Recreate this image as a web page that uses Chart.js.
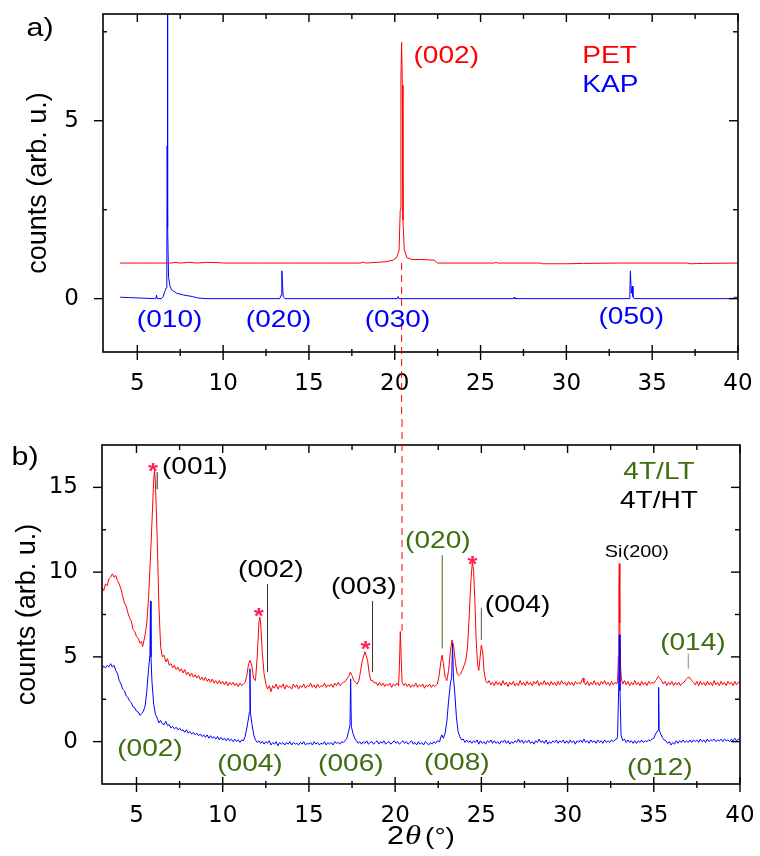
<!DOCTYPE html>
<html>
<head>
<meta charset="utf-8">
<script src="https://cdn.jsdelivr.net/npm/chart.js@4.4.0/dist/chart.umd.min.js"></script>
<style>
  html, body { margin: 0; padding: 0; background: #fff; }
  #wrap { width: 760px; height: 856px; }
  canvas { display: block; }
</style>
</head>
<body>
<div id="wrap">
  <canvas id="chartA" width="760" height="420"></canvas>
  <canvas id="chartB" width="760" height="436"></canvas>
</div>
<script>
/* ---------- data ---------- */

// axis ticks (2theta in degrees)
const xTickValues  = [5, 10, 15, 20, 25, 30, 35, 40];
const xMinorValues = [7.5, 12.5, 17.5, 22.5, 27.5, 32.5, 37.5];
const yTicksA = [0, 5];
const yMinorA = [2.5, 7.5];
const yTicksB = [0, 5, 10, 15];
const yMinorB = [2.5, 7.5, 12.5];

// panel a) PET (red, offset +1)
const petX = [4.0, 5.0, 6.0, 7.0, 7.2, 7.5, 8.0, 8.5, 9.0, 9.8,
  10.0, 12.0, 14.0, 16.0, 18.0, 18.2, 18.3, 19.0, 19.5, 19.9,
  20.1, 20.25, 20.32, 20.36, 20.4, 20.44, 20.48, 20.55, 20.7, 21.0,
  21.5, 22.3, 22.5, 25.8, 25.9, 26.0, 28.5, 28.6, 30.0, 31.0,
  33.0, 37.0, 37.2, 38.0, 40.0];
const petY = [1.0, 1.0, 1.0, 1.0, 1.02, 1.0, 1.02, 1.0, 1.02, 1.01,
  1.0, 1.0, 1.0, 1.0, 1.0, 1.03, 1.0, 1.02, 1.04, 1.08,
  1.15, 1.35, 2.5, 6.2, 7.2, 6.0, 2.2, 1.4, 1.15, 1.1,
  1.1, 1.08, 1.0, 1.0, 1.02, 1.0, 1.0, 0.98, 0.98, 0.99,
  1.0, 1.0, 0.98, 0.99, 1.0];

// panel a) KAP (blue)
const kapX = [4.0, 4.5, 5.0, 5.5, 6.0, 6.08, 6.12, 6.16, 6.4, 6.5,
  6.6, 6.68, 6.72, 6.74, 6.75, 6.77, 6.78, 6.82, 6.9, 7.0,
  7.3, 7.7, 8.2, 8.5, 9.0, 13.3, 13.38, 13.42, 13.46, 13.5,
  13.6, 20.15, 20.2, 20.25, 26.9, 26.95, 27.0, 33.65, 33.7, 33.73,
  33.78, 33.84, 33.88, 33.95, 39.7, 39.8, 40.0];
const kapY = [0.04, 0.03, 0.02, 0.01, 0.0, 0.0, 0.1, 0.0, 0.0, 0.05,
  0.2, 0.3, 1.0, 4.3, 9.5, 9.5, 2.0, 0.6, 0.35, 0.25,
  0.15, 0.1, 0.06, 0.02, 0.0, 0.0, 0.1, 0.78, 0.4, 0.05,
  0.0, 0.0, 0.06, 0.0, 0.0, 0.04, 0.0, 0.0, 0.2, 0.78,
  0.15, 0.35, 0.05, 0.0, 0.0, 0.04, 0.04];

// panel b) red film pattern
const redX = [3.0, 3.1, 3.2, 3.3, 3.4, 3.5, 3.6, 3.7, 3.8, 3.9,
  4.0, 4.1, 4.2, 4.3, 4.4, 4.5, 4.6, 4.7, 4.8, 4.9,
  5.0, 5.1, 5.2, 5.3, 5.35, 5.4, 5.5, 5.6, 5.7, 5.8,
  5.9, 6.0, 6.05, 6.1, 6.2, 6.3, 6.4, 6.5, 6.6, 6.7,
  6.8, 6.9, 7.0, 7.1, 7.2, 7.3, 7.4, 7.5, 7.6, 7.7,
  7.8, 7.9, 8.0, 8.1, 8.2, 8.3, 8.4, 8.5, 8.6, 8.7,
  8.8, 8.9, 9.0, 9.1, 9.2, 9.3, 9.4, 9.5, 9.6, 9.7,
  9.8, 9.9, 10.0, 10.1, 10.2, 10.3, 10.4, 10.5, 10.6, 10.7,
  10.8, 10.9, 11.0, 11.1, 11.2, 11.3, 11.4, 11.5, 11.6, 11.7,
  11.8, 11.9, 12.0, 12.1, 12.15, 12.2, 12.3, 12.4, 12.5, 12.6,
  12.7, 12.8, 12.9, 13.0, 13.1, 13.2, 13.3, 13.4, 13.5, 13.6,
  13.7, 13.8, 13.9, 14.0, 14.1, 14.2, 14.3, 14.4, 14.5, 14.6,
  14.7, 14.8, 14.9, 15.0, 15.1, 15.2, 15.3, 15.4, 15.5, 15.6,
  15.7, 15.8, 15.9, 16.0, 16.1, 16.2, 16.3, 16.4, 16.5, 16.6,
  16.7, 16.8, 16.9, 17.0, 17.1, 17.2, 17.3, 17.4, 17.5, 17.6,
  17.7, 17.8, 17.9, 18.0, 18.1, 18.25, 18.4, 18.5, 18.6, 18.7,
  18.8, 18.9, 19.0, 19.1, 19.2, 19.3, 19.4, 19.5, 19.6, 19.7,
  19.8, 19.9, 20.0, 20.1, 20.2, 20.25, 20.3, 20.35, 20.4, 20.5,
  20.6, 20.7, 20.8, 20.9, 21.0, 21.1, 21.2, 21.3, 21.4, 21.5,
  21.6, 21.7, 21.8, 21.9, 22.0, 22.1, 22.2, 22.3, 22.45, 22.55,
  22.65, 22.72, 22.8, 22.9, 23.0, 23.1, 23.2, 23.3, 23.4, 23.5,
  23.6, 23.7, 23.8, 23.9, 24.0, 24.1, 24.2, 24.3, 24.4, 24.48,
  24.55, 24.62, 24.7, 24.78, 24.85, 24.92, 25.0, 25.08, 25.15, 25.25,
  25.35, 25.45, 25.55, 25.65, 25.75, 25.85, 25.95, 26.05, 26.15, 26.25,
  26.35, 26.45, 26.55, 26.65, 26.75, 26.85, 26.95, 27.05, 27.15, 27.25,
  27.35, 27.45, 27.55, 27.65, 27.75, 27.85, 27.95, 28.05, 28.15, 28.25,
  28.35, 28.45, 28.55, 28.65, 28.75, 28.85, 28.95, 29.05, 29.15, 29.25,
  29.35, 29.45, 29.55, 29.65, 29.75, 29.85, 29.95, 30.05, 30.15, 30.25,
  30.35, 30.45, 30.55, 30.65, 30.75, 30.85, 30.9, 30.95, 31.05, 31.15,
  31.25, 31.35, 31.45, 31.55, 31.65, 31.75, 31.85, 31.95, 32.05, 32.15,
  32.25, 32.35, 32.45, 32.55, 32.65, 32.75, 32.85, 32.9, 32.95, 32.98,
  33.0, 33.02, 33.04, 33.07, 33.12, 33.2, 33.3, 33.4, 33.5, 33.6,
  33.7, 33.8, 33.9, 34.0, 34.1, 34.2, 34.3, 34.4, 34.5, 34.6,
  34.7, 34.8, 34.9, 35.0, 35.1, 35.15, 35.25, 35.35, 35.45, 35.55,
  35.65, 35.75, 35.85, 35.95, 36.05, 36.15, 36.25, 36.35, 36.45, 36.55,
  36.65, 36.75, 36.85, 36.95, 37.0, 37.1, 37.2, 37.3, 37.4, 37.5,
  37.6, 37.7, 37.8, 37.9, 38.0, 38.1, 38.2, 38.3, 38.4, 38.5,
  38.6, 38.7, 38.8, 38.9, 39.0, 39.1, 39.2, 39.3, 39.4, 39.5,
  39.6, 39.7, 39.8, 39.9, 40.0];
const redY = [9.1, 8.9, 9.3, 9.2, 9.6, 9.7, 9.9, 9.7, 9.8, 9.5,
  9.3, 9.0, 8.6, 8.2, 8.0, 7.6, 7.3, 7.1, 6.6, 6.5,
  6.2, 6.1, 5.8, 5.9, 5.6, 5.8, 6.3, 7.0, 8.5, 10.6,
  13.0, 15.5, 16.0, 15.2, 12.0, 8.0, 5.6, 5.0, 5.1, 4.7,
  4.9, 4.5, 4.6, 4.35, 4.5, 4.25, 4.4, 4.15, 4.3, 4.05,
  4.25, 3.95, 4.1, 3.85, 4.05, 3.8, 3.95, 3.75, 3.9, 3.65,
  3.8, 3.6, 3.8, 3.55, 3.7, 3.5, 3.7, 3.45, 3.6, 3.4,
  3.6, 3.4, 3.55, 3.35, 3.55, 3.3, 3.5, 3.35, 3.5, 3.3,
  3.45, 3.25, 3.45, 3.3, 3.4, 3.5, 3.9, 4.6, 4.8, 4.4,
  3.7, 3.6, 5.0, 7.0, 7.35, 7.0, 5.2, 4.0, 3.4, 3.1,
  3.3, 2.95, 3.3, 3.15, 3.4, 3.1, 3.3, 3.2, 3.4, 3.1,
  3.35, 3.2, 3.25, 3.1, 3.4, 3.2, 3.35, 3.1, 3.3, 3.2,
  3.4, 3.15, 3.3, 3.25, 3.45, 3.2, 3.35, 3.15, 3.4, 3.2,
  3.3, 3.25, 3.45, 3.2, 3.35, 3.25, 3.4, 3.2, 3.45, 3.3,
  3.5, 3.3, 3.4, 3.5, 3.55, 3.7, 3.85, 4.1, 3.9, 3.6,
  3.5, 3.4, 3.6, 4.2, 4.8, 5.3, 4.8, 4.0, 3.6, 3.6,
  3.45, 3.5, 3.3, 3.5, 3.3, 3.45, 3.25, 3.4, 3.3, 3.45,
  3.2, 3.4, 3.3, 3.45, 3.3, 4.5, 6.5, 5.0, 3.5, 3.3,
  3.45, 3.25, 3.4, 3.2, 3.35, 3.25, 3.45, 3.2, 3.35, 3.25,
  3.4, 3.15, 3.35, 3.25, 3.4, 3.2, 3.35, 3.25, 3.4, 3.9,
  4.7, 5.1, 4.6, 3.8, 3.6, 4.2, 5.3, 6.0, 5.6, 4.6,
  4.0, 3.9, 4.0, 4.2, 4.5, 4.8, 5.6, 7.5, 9.6, 10.6,
  10.1, 8.4, 6.0, 4.6, 4.2, 4.9, 5.7, 5.3, 4.2, 3.6,
  3.45, 3.6, 3.35, 3.5, 3.3, 3.55, 3.35, 3.5, 3.3, 3.6,
  3.35, 3.5, 3.25, 3.5, 3.35, 3.55, 3.3, 3.45, 3.3, 3.6,
  3.35, 3.5, 3.3, 3.55, 3.35, 3.5, 3.3, 3.55, 3.4, 3.6,
  3.3, 3.5, 3.35, 3.6, 3.35, 3.5, 3.3, 3.55, 3.35, 3.5,
  3.3, 3.55, 3.35, 3.6, 3.4, 3.5, 3.3, 3.55, 3.35, 3.5,
  3.3, 3.55, 3.4, 3.5, 3.4, 3.65, 3.75, 3.5, 3.35, 3.55,
  3.3, 3.5, 3.35, 3.6, 3.35, 3.5, 3.3, 3.55, 3.4, 3.6,
  3.35, 3.5, 3.3, 3.55, 3.35, 3.5, 3.4, 3.6, 5.0, 9.0,
  10.5, 8.8, 7.0, 4.5, 3.7, 3.4, 3.6, 3.35, 3.55, 3.3,
  3.5, 3.35, 3.6, 3.35, 3.5, 3.3, 3.55, 3.35, 3.5, 3.3,
  3.55, 3.4, 3.5, 3.45, 3.6, 3.65, 3.85, 3.75, 3.6, 3.4,
  3.55, 3.3, 3.5, 3.35, 3.55, 3.3, 3.5, 3.35, 3.5, 3.3,
  3.45, 3.5, 3.65, 3.75, 3.8, 3.75, 3.6, 3.5, 3.35, 3.55,
  3.3, 3.55, 3.35, 3.5, 3.3, 3.55, 3.35, 3.5, 3.3, 3.6,
  3.35, 3.5, 3.3, 3.55, 3.35, 3.5, 3.3, 3.55, 3.4, 3.5,
  3.3, 3.55, 3.35, 3.5, 3.45];

// panel b) blue film pattern
const blueX = [3.0, 3.1, 3.2, 3.3, 3.4, 3.5, 3.6, 3.7, 3.8, 3.9,
  4.0, 4.1, 4.2, 4.3, 4.4, 4.5, 4.6, 4.7, 4.8, 4.9,
  5.0, 5.1, 5.2, 5.3, 5.4, 5.5, 5.6, 5.7, 5.78, 5.81,
  5.84, 5.9, 6.0, 6.1, 6.2, 6.3, 6.4, 6.5, 6.6, 6.7,
  6.8, 6.9, 7.0, 7.1, 7.2, 7.3, 7.4, 7.5, 7.6, 7.7,
  7.8, 7.9, 8.0, 8.1, 8.2, 8.3, 8.4, 8.5, 8.6, 8.7,
  8.8, 8.9, 9.0, 9.1, 9.2, 9.3, 9.4, 9.5, 9.6, 9.7,
  9.8, 9.9, 10.0, 10.1, 10.2, 10.3, 10.4, 10.5, 10.6, 10.7,
  10.8, 10.9, 11.0, 11.1, 11.2, 11.3, 11.4, 11.5, 11.55, 11.58,
  11.61, 11.7, 11.8, 11.9, 12.0, 12.1, 12.2, 12.3, 12.4, 12.5,
  12.6, 12.7, 12.8, 12.9, 13.0, 13.1, 13.2, 13.3, 13.4, 13.5,
  13.6, 13.7, 13.8, 13.9, 14.0, 14.1, 14.2, 14.3, 14.4, 14.5,
  14.6, 14.7, 14.8, 14.9, 15.0, 15.1, 15.2, 15.3, 15.4, 15.5,
  15.6, 15.7, 15.8, 15.9, 16.0, 16.1, 16.2, 16.3, 16.4, 16.5,
  16.6, 16.7, 16.8, 16.9, 17.0, 17.1, 17.2, 17.3, 17.38, 17.42,
  17.46, 17.55, 17.65, 17.75, 17.85, 17.95, 18.05, 18.15, 18.25, 18.35,
  18.45, 18.55, 18.65, 18.75, 18.85, 18.95, 19.05, 19.15, 19.25, 19.35,
  19.45, 19.55, 19.65, 19.75, 19.85, 19.95, 20.05, 20.15, 20.25, 20.35,
  20.45, 20.55, 20.65, 20.75, 20.85, 20.95, 21.05, 21.15, 21.25, 21.35,
  21.45, 21.55, 21.65, 21.75, 21.85, 21.95, 22.05, 22.15, 22.25, 22.35,
  22.45, 22.55, 22.6, 22.7, 22.8, 22.9, 23.0, 23.1, 23.2, 23.28,
  23.33, 23.38, 23.45, 23.55, 23.65, 23.75, 23.85, 23.95, 24.05, 24.15,
  24.25, 24.35, 24.45, 24.55, 24.65, 24.75, 24.85, 24.95, 25.05, 25.15,
  25.25, 25.35, 25.45, 25.55, 25.65, 25.75, 25.85, 25.95, 26.05, 26.15,
  26.25, 26.35, 26.45, 26.55, 26.65, 26.75, 26.85, 26.95, 27.05, 27.15,
  27.25, 27.35, 27.45, 27.55, 27.65, 27.75, 27.85, 27.95, 28.05, 28.15,
  28.25, 28.35, 28.45, 28.55, 28.65, 28.75, 28.85, 28.95, 29.05, 29.15,
  29.25, 29.35, 29.45, 29.55, 29.65, 29.75, 29.85, 29.95, 30.05, 30.15,
  30.25, 30.35, 30.45, 30.55, 30.65, 30.75, 30.85, 30.95, 31.05, 31.15,
  31.25, 31.35, 31.45, 31.55, 31.65, 31.75, 31.85, 31.95, 32.05, 32.15,
  32.25, 32.35, 32.45, 32.55, 32.65, 32.75, 32.85, 32.9, 32.96, 33.0,
  33.04, 33.1, 33.2, 33.3, 33.4, 33.5, 33.6, 33.7, 33.8, 33.9,
  34.0, 34.1, 34.2, 34.3, 34.4, 34.5, 34.6, 34.7, 34.8, 34.9,
  35.0, 35.1, 35.2, 35.25, 35.28, 35.31, 35.4, 35.5, 35.6, 35.7,
  35.8, 35.9, 36.0, 36.1, 36.2, 36.3, 36.4, 36.5, 36.6, 36.7,
  36.8, 36.9, 37.0, 37.1, 37.2, 37.3, 37.4, 37.5, 37.6, 37.7,
  37.8, 37.9, 38.0, 38.1, 38.2, 38.3, 38.4, 38.5, 38.6, 38.7,
  38.8, 38.9, 39.0, 39.1, 39.2, 39.3, 39.4, 39.5, 39.6, 39.7,
  39.8, 39.9, 40.0];
const blueY = [4.3, 4.45, 4.35, 4.5, 4.4, 4.6, 4.4, 4.5, 4.2, 4.0,
  3.6, 3.4, 3.1, 3.0, 2.7, 2.6, 2.4, 2.3, 2.05, 2.0,
  1.8, 1.75, 1.55, 1.65, 1.8, 2.1, 3.0, 4.3, 5.1, 8.3,
  5.0, 3.5, 2.2, 1.6, 1.4, 1.1, 1.25, 1.05, 1.0, 1.2,
  0.95, 1.0, 0.8, 0.9, 0.75, 0.85, 0.7, 0.8, 0.65, 0.7,
  0.55, 0.7, 0.5, 0.6, 0.45, 0.55, 0.4, 0.5, 0.35, 0.45,
  0.3, 0.4, 0.25, 0.4, 0.2, 0.35, 0.2, 0.3, 0.15, 0.3,
  0.1, 0.25, 0.1, 0.2, 0.05, 0.2, 0.05, 0.15, 0.0, 0.15,
  0.0, 0.1, -0.05, 0.1, 0.05, 0.3, 0.8, 1.4, 1.75, 4.3,
  1.7, 1.0, 0.4, 0.1, -0.05, 0.05, -0.1, 0.0, -0.15, 0.0,
  -0.1, 0.05, -0.2, -0.05, -0.15, 0.0, -0.25, -0.05, -0.15, -0.05,
  -0.2, -0.05, -0.15, 0.0, -0.2, -0.05, -0.15, -0.1, -0.2, -0.05,
  -0.15, 0.0, -0.2, -0.1, -0.15, -0.05, -0.2, 0.0, -0.15, -0.05,
  -0.2, -0.1, -0.15, 0.0, -0.2, -0.05, -0.15, -0.05, -0.2, 0.0,
  -0.1, -0.05, -0.15, 0.0, -0.05, 0.05, 0.2, 0.6, 0.95, 3.7,
  0.9, 0.5, 0.2, 0.05, -0.1, 0.0, -0.15, 0.0, -0.1, 0.05,
  -0.15, -0.05, 0.0, -0.15, -0.05, 0.05, -0.15, 0.0, -0.1, 0.05,
  -0.15, -0.05, 0.0, -0.15, -0.05, 0.05, -0.1, 0.0, -0.15, -0.05,
  0.05, -0.1, 0.0, -0.15, -0.05, 0.05, -0.15, -0.05, -0.2, 0.0,
  -0.15, -0.05, -0.2, 0.0, -0.1, -0.2, -0.05, -0.15, 0.0, -0.1,
  0.05, 0.0, 0.1, 0.4, 0.2, 0.5, 1.2, 2.4, 3.4, 3.8,
  5.8, 3.8, 3.0, 1.5, 0.6, 0.3, 0.1, 0.15, -0.05, 0.1,
  -0.05, 0.05, -0.1, 0.05, -0.05, 0.1, -0.15, 0.05, -0.1, 0.0,
  -0.15, 0.05, -0.05, 0.1, -0.1, 0.05, -0.1, 0.0, -0.15, 0.05,
  -0.05, 0.1, -0.1, 0.05, -0.15, 0.0, -0.1, 0.05, -0.05, 0.15,
  -0.05, 0.1, -0.1, 0.05, -0.05, 0.1, -0.1, 0.0, -0.15, 0.05,
  -0.05, 0.15, -0.05, 0.05, -0.1, 0.1, -0.15, 0.0, -0.1, 0.05,
  -0.05, 0.1, -0.1, 0.05, -0.05, 0.1, -0.1, 0.05, -0.1, 0.1,
  -0.05, 0.05, -0.15, 0.05, -0.05, 0.1, -0.05, 0.15, -0.05, 0.05,
  -0.1, 0.1, -0.05, 0.05, -0.1, 0.1, -0.05, 0.05, -0.1, 0.1,
  -0.05, 0.05, -0.05, 0.1, 0.0, 0.1, 0.15, 0.3, 3.0, 6.3,
  3.0, 0.4, 0.05, 0.15, -0.05, 0.1, -0.05, 0.05, -0.1, 0.05,
  -0.1, 0.05, -0.05, 0.1, -0.05, 0.05, 0.0, 0.1, 0.05, 0.15,
  0.2, 0.45, 0.6, 0.7, 3.2, 0.7, 0.45, 0.25, 0.1, 0.05,
  -0.1, 0.0, -0.2, -0.05, -0.15, 0.05, -0.1, 0.05, -0.05, 0.1,
  -0.05, 0.05, -0.05, 0.1, -0.05, 0.1, 0.0, 0.1, -0.05, 0.15,
  0.0, 0.1, -0.05, 0.15, 0.0, 0.1, 0.05, 0.15, 0.0, 0.1,
  0.05, 0.15, 0.0, 0.15, 0.05, 0.1, 0.0, 0.15, 0.05, 0.2,
  0.05, 0.15, 0.1];

/* ---------- styling ---------- */
const RED = '#ff0000';
const BLUE = '#0000ff';
const GREEN = '#3d6e12';
const STAR = '#ff2060';
const SANS = '"Liberation Sans", Arial, sans-serif';
const TICK_FONT = { family: '"DejaVu Sans", sans-serif', size: 23 };
const STRETCH = 1.17; // the original figure is stretched horizontally

function toPoints(xs, ys) {
    const n = Math.min(xs.length, ys.length);
    const pts = [];
    for (let i = 0; i < n; i++) pts.push({ x: xs[i], y: ys[i] });
    return pts;
}

function stretchText(ctx, text, px, py, size, color, align, font) {
    ctx.save();
    ctx.font = font || `${size}px ${SANS}`;
    ctx.fillStyle = color;
    ctx.textBaseline = 'middle';
    ctx.textAlign = align || 'center';
    ctx.translate(px, py);
    ctx.scale(STRETCH, 1);
    ctx.fillText(text, 0, 0);
    ctx.restore();
}

function seg(ctx, x0, y0, x1, y1) {
    ctx.beginPath();
    ctx.moveTo(x0, y0);
    ctx.lineTo(x1, y1);
    ctx.stroke();
}

// frame with inward / crossing tick marks on all four sides
const frameTicks = {
    id: 'frameTicks',
    afterDraw(chart, args, o) {
        const { ctx, chartArea: a, scales: { x, y } } = chart;
        ctx.save();
        ctx.strokeStyle = '#000';
        ctx.lineWidth = 1.6;
        ctx.strokeRect(a.left, a.top, a.right - a.left, a.bottom - a.top);
        ctx.lineWidth = 1.4;
        o.xMajor.forEach(v => {
            const p = x.getPixelForValue(v);
            seg(ctx, p, a.bottom - 7, p, a.bottom + 8);
            seg(ctx, p, a.top, p, a.top + 8);
        });
        o.xMinor.forEach(v => {
            const p = x.getPixelForValue(v);
            seg(ctx, p, a.bottom - 3, p, a.bottom + 4);
            seg(ctx, p, a.top, p, a.top + 5);
        });
        o.yMajor.forEach(v => {
            const p = y.getPixelForValue(v);
            seg(ctx, a.left - 9, p, a.left, p);
            seg(ctx, a.right - 9, p, a.right, p);
        });
        o.yMinor.forEach(v => {
            const p = y.getPixelForValue(v);
            seg(ctx, a.left, p, a.left + 4, p);
            seg(ctx, a.right - 5, p, a.right, p);
        });
        ctx.restore();
    }
};

// peak labels, marker lines, asterisks, dashed guide, panel letter
const notes = {
    id: 'notes',
    afterDraw(chart, args, o) {
        const { ctx, chartArea: a, scales: { x, y } } = chart;
        ctx.save();
        (o.dashes || []).forEach(d => {
            const px = x.getPixelForValue(d.x);
            const y0 = d.from === 'top' ? 0 : y.getPixelForValue(d.from);
            const y1 = d.to === 'bottom' ? chart.height : y.getPixelForValue(d.to);
            ctx.strokeStyle = d.color;
            ctx.lineWidth = 1;
            ctx.setLineDash([7, 5]);
            seg(ctx, px, y0, px, y1);
            ctx.setLineDash([]);
        });
        (o.marks || []).forEach(m => {
            const px = x.getPixelForValue(m.x);
            ctx.strokeStyle = m.color;
            ctx.lineWidth = 1;
            seg(ctx, px, y.getPixelForValue(m.y0), px, y.getPixelForValue(m.y1));
        });
        (o.labels || []).forEach(l => {
            stretchText(ctx, l.text, x.getPixelForValue(l.x), y.getPixelForValue(l.y),
                l.size || 24, l.color, l.align);
        });
        (o.stars || []).forEach(s => {
            const sz = 22;
            stretchText(ctx, '*', x.getPixelForValue(s.x), y.getPixelForValue(s.y) + 0.36 * sz,
                sz, STAR, 'center', `bold ${sz}px ${SANS}`);
        });
        if (o.panel) {
            stretchText(ctx, o.panel.text, o.panel.px, o.panel.py, 26, '#000', 'center');
        }
        if (o.twoTheta) {
            const parts = [
                { t: '2', f: `26px ${SANS}`, gap: 1 },
                { t: 'θ', f: 'italic 28px "Liberation Serif", serif', gap: 4 },
                { t: '(°)', f: `24px ${SANS}`, gap: 0 }
            ];
            let total = 0;
            parts.forEach(p => { ctx.font = p.f; p.w = ctx.measureText(p.t).width * STRETCH; total += p.w + p.gap; });
            let cx = (a.left + a.right) / 2 - total / 2;
            parts.forEach(p => {
                stretchText(ctx, p.t, cx, o.twoTheta.py, 0, '#000', 'left', p.f);
                cx += p.w + p.gap;
            });
        }
        ctx.restore();
    }
};

function makeChart(id, datasets, cfg) {
    return new Chart(document.getElementById(id), {
        type: 'line',
        data: { datasets },
        plugins: [frameTicks, notes],
        options: {
            responsive: false,
            animation: false,
            devicePixelRatio: 1,
            layout: { padding: { left: 0, right: cfg.padRight, top: cfg.padTop, bottom: 0 } },
            elements: { point: { radius: 0 }, line: { borderWidth: 1, tension: 0 } },
            scales: {
                x: {
                    type: 'linear', min: 3, max: 40,
                    afterBuildTicks: s => { s.ticks = xTickValues.map(v => ({ value: v })); },
                    afterFit: s => { s.height = cfg.xHeight; s.paddingLeft = 0; s.paddingRight = 0; },
                    grid: { display: false }, border: { display: false },
                    ticks: { font: TICK_FONT, color: '#000', padding: 10, maxRotation: 0, autoSkip: false }
                },
                y: {
                    type: 'linear', min: cfg.yMin, max: cfg.yMax,
                    afterBuildTicks: s => { s.ticks = cfg.yTicks.map(v => ({ value: v })); },
                    afterFit: s => { s.width = cfg.yWidth; s.paddingTop = 0; s.paddingBottom = 0; },
                    grid: { display: false }, border: { display: false },
                    ticks: { font: TICK_FONT, color: '#000', padding: 16 },
                    title: {
                        display: true, text: 'counts (arb. u.)', color: '#000',
                        font: { family: SANS, size: 27 }, padding: { top: cfg.titlePad, bottom: 0 }
                    }
                }
            },
            plugins: {
                legend: { display: false },
                tooltip: { enabled: false },
                frameTicks: { xMajor: xTickValues, xMinor: xMinorValues, yMajor: cfg.yTicks, yMinor: cfg.yMinor },
                notes: cfg.notes
            }
        }
    });
}

// a) reference crystals
makeChart('chartA', [
    { label: 'PET', data: toPoints(petX, petY), borderColor: RED, fill: false },
    { label: 'KAP', data: toPoints(kapX, kapY), borderColor: BLUE, fill: false }
], {
    padRight: 22, padTop: 14, xHeight: 68, yWidth: 103, titlePad: 22,
    yMin: -1.5, yMax: 8, yTicks: yTicksA, yMinor: yMinorA,
    notes: {
        panel: { text: 'a)', px: 40, py: 29 },
        dashes: [{ x: 20.4, from: 1.0, to: 'bottom', color: RED }],
        labels: [
            { text: '(002)', x: 23.0, y: 6.82, color: RED },
            { text: 'PET', x: 30.92, y: 6.82, color: RED, align: 'left' },
            { text: 'KAP', x: 30.92, y: 5.98, color: BLUE, align: 'left' },
            { text: '(010)', x: 6.88, y: -0.61, color: BLUE },
            { text: '(020)', x: 13.23, y: -0.61, color: BLUE },
            { text: '(030)', x: 20.16, y: -0.61, color: BLUE },
            { text: '(050)', x: 33.78, y: -0.53, color: BLUE }
        ]
    }
});

// b) films
makeChart('chartB', [
    { label: 'blue', data: toPoints(blueX, blueY), borderColor: BLUE, fill: false },
    { label: 'red', data: toPoints(redX, redY), borderColor: RED, fill: false }
], {
    padRight: 20, padTop: 25, xHeight: 72, yWidth: 102, titlePad: 11,
    yMin: -2.5, yMax: 17.5, yTicks: yTicksB, yMinor: yMinorB,
    notes: {
        panel: { text: 'b)', px: 25, py: 38 },
        twoTheta: { py: 417 },
        dashes: [{ x: 20.4, from: 'top', to: 6.5, color: RED }],
        marks: [
            { x: 6.2, y0: 14.9, y1: 15.9, color: '#222' },
            { x: 12.6, y0: 4.1, y1: 9.3, color: '#333' },
            { x: 18.69, y0: 4.1, y1: 8.3, color: '#333' },
            { x: 22.73, y0: 5.5, y1: 11.0, color: GREEN },
            { x: 25.0, y0: 6.0, y1: 7.9, color: '#555' },
            { x: 37.0, y0: 4.3, y1: 5.2, color: '#7f9a62' }
        ],
        stars: [
            { x: 5.96, y: 16.38 }, { x: 12.09, y: 7.85 },
            { x: 18.28, y: 5.88 }, { x: 24.49, y: 10.88 }
        ],
        labels: [
            { text: '(001)', x: 8.38, y: 16.16, color: '#000' },
            { text: '(002)', x: 12.79, y: 10.1, color: '#000' },
            { text: '(003)', x: 18.18, y: 9.1, color: '#000' },
            { text: '(020)', x: 22.48, y: 11.8, color: GREEN },
            { text: '(004)', x: 27.1, y: 8.04, color: '#000' },
            { text: 'Si(200)', x: 34.02, y: 11.16, color: '#000', size: 17 },
            { text: '(014)', x: 37.27, y: 5.8, color: GREEN },
            { text: '4T/LT', x: 35.3, y: 15.9, color: GREEN },
            { text: '4T/HT', x: 35.3, y: 14.16, color: '#000' },
            { text: '(002)', x: 5.78, y: -0.43, color: GREEN },
            { text: '(004)', x: 11.58, y: -1.37, color: GREEN },
            { text: '(006)', x: 17.43, y: -1.37, color: GREEN },
            { text: '(008)', x: 23.58, y: -1.31, color: GREEN },
            { text: '(012)', x: 35.35, y: -1.55, color: GREEN }
        ]
    }
});
</script>
</body>
</html>
